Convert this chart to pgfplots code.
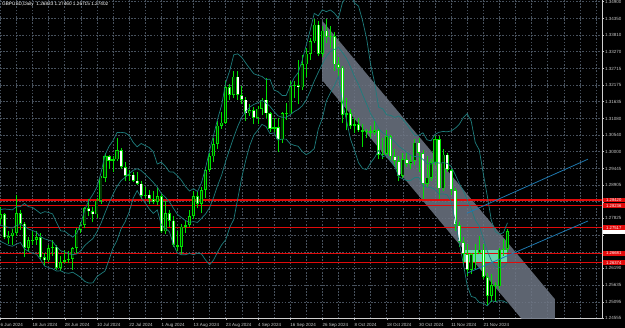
\documentclass[border=0pt]{standalone}
\usepackage{pgfplots}
\pgfplotsset{compat=1.18}
\usepackage{pgfplotstable}
\usepackage{fontspec}
\setmainfont{Liberation Sans}
\definecolor{bull}{RGB}{0,225,0}
\definecolor{bullfill}{RGB}{0,55,0}
\definecolor{gridc}{RGB}{72,82,94}
\definecolor{bandc}{RGB}{30,125,125}
\definecolor{chan}{RGB}{110,118,132}
\definecolor{rectc}{RGB}{110,225,185}
\definecolor{blueline}{RGB}{30,120,175}
\definecolor{lvl}{RGB}{225,10,10}
\definecolor{txt}{RGB}{200,200,200}

\pgfplotsset{
  frame/.style={at={(0pt,9.5pt)}, anchor=south west, scale only axis,
    width=602pt, height=318.5pt,
    xmin=-0.075, xmax=149.49, ymin=1.24551, ymax=1.349555},
  overlay/.style={frame, hide axis},
  bars/.style={draw=none, mark=none, forget plot,
    error bars/.cd, y dir=plus, y explicit, error mark=none,
    error bar style={#1}},
}

% bullish candles (close above open)
\pgfplotstableread{
i O H L C
0 1.2780 1.2818 1.2765 1.2795
2 1.2718 1.2740 1.2700 1.2725
3 1.2725 1.2748 1.2694 1.2735
4 1.2735 1.2860 1.2725 1.2800
7 1.2685 1.2720 1.2675 1.2710
8 1.2710 1.2740 1.2695 1.2713
9 1.2713 1.2740 1.2695 1.2720
12 1.2645 1.2695 1.2640 1.2685
13 1.2685 1.2710 1.2660 1.2690
15 1.2620 1.2660 1.2610 1.2640
16 1.2640 1.2680 1.2635 1.2645
17 1.2645 1.2675 1.2635 1.2650
18 1.2650 1.2690 1.2615 1.2685
19 1.2685 1.2750 1.2670 1.2745
20 1.2745 1.2770 1.2735 1.2760
21 1.2760 1.2820 1.2750 1.2815
24 1.2795 1.2850 1.2785 1.2840
25 1.2840 1.2920 1.2830 1.2915
26 1.2915 1.2995 1.2900 1.2985
28 1.2970 1.2985 1.2935 1.2975
29 1.2975 1.3045 1.2970 1.3005
32 1.2920 1.2940 1.2905 1.2925
36 1.2855 1.2885 1.2850 1.2860
39 1.2835 1.2885 1.2825 1.2855
41 1.2740 1.2840 1.2730 1.2800
45 1.2690 1.2765 1.2665 1.2755
46 1.2755 1.2775 1.2735 1.2760
47 1.2760 1.2810 1.2755 1.2790
48 1.2790 1.2870 1.2780 1.2855
50 1.2830 1.2885 1.2800 1.2875
51 1.2875 1.2950 1.2850 1.2940
52 1.2940 1.2995 1.2935 1.2985
53 1.2985 1.3045 1.2965 1.3025
54 1.3025 1.3100 1.3010 1.3085
55 1.3085 1.3130 1.3075 1.3095
56 1.3095 1.3230 1.3090 1.3210
58 1.3185 1.3265 1.3175 1.3245
62 1.3125 1.3155 1.3115 1.3135
64 1.3110 1.3150 1.3090 1.3140
65 1.3140 1.3175 1.3120 1.3170
68 1.3075 1.3110 1.3065 1.3080
70 1.3040 1.3130 1.3030 1.3125
72 1.3122 1.3230 1.3120 1.3215
73 1.3215 1.3230 1.3175 1.3218
75 1.3210 1.3315 1.3200 1.3285
76 1.3285 1.3340 1.3245 1.3320
77 1.3320 1.3370 1.3300 1.3360
78 1.3360 1.3435 1.3355 1.3415
80 1.3320 1.3410 1.3310 1.3395
82 1.3375 1.3410 1.3340 1.3378
86 1.3120 1.3175 1.3070 1.3125
88 1.3085 1.3110 1.3060 1.3090
91 1.3065 1.3075 1.3045 1.3068
93 1.3062 1.3100 1.3055 1.3070
95 1.2990 1.3045 1.2975 1.2993
96 1.2993 1.3070 1.2985 1.3050
100 1.2920 1.2995 1.2915 1.2975
102 1.2960 1.2990 1.2945 1.2970
103 1.2970 1.3040 1.2955 1.3030
106 1.2895 1.2985 1.2885 1.2915
107 1.2915 1.2975 1.2905 1.2965
108 1.2965 1.3050 1.2955 1.3040
110 1.2880 1.3010 1.2870 1.2990
117 1.2615 1.2670 1.2600 1.2665
118 1.2665 1.2700 1.2615 1.2670
119 1.2670 1.2725 1.2665 1.2680
122 1.2530 1.2600 1.2510 1.2565
124 1.2560 1.2685 1.2550 1.2680
125 1.2680 1.2715 1.2660 1.2683
126 1.26833 1.27460 1.26715 1.27402
}\bullc

% bearish candles (close below open)
\pgfplotstableread{
i O H L C
1 1.2795 1.2800 1.2714 1.2720
5 1.2800 1.2810 1.2745 1.2765
6 1.2765 1.2770 1.2655 1.2685
10 1.2720 1.2735 1.2650 1.2655
11 1.2655 1.2670 1.2625 1.2645
14 1.2690 1.2695 1.2615 1.2620
22 1.2815 1.2845 1.2790 1.2805
23 1.2805 1.2820 1.2770 1.2795
27 1.2985 1.2990 1.2945 1.2970
30 1.3005 1.3012 1.2945 1.2950
31 1.2950 1.2965 1.2905 1.2920
33 1.2925 1.2935 1.2900 1.2905
34 1.2905 1.2935 1.2890 1.2895
35 1.2895 1.2905 1.2845 1.2855
37 1.2860 1.2875 1.2830 1.2845
38 1.2845 1.2870 1.2830 1.2835
40 1.2855 1.2865 1.2735 1.2740
42 1.2800 1.2810 1.2755 1.2775
43 1.2775 1.2790 1.2690 1.2695
44 1.2695 1.2740 1.2675 1.2690
49 1.2855 1.2870 1.2815 1.2830
57 1.3210 1.3220 1.3170 1.3185
59 1.3245 1.3265 1.3170 1.3185
60 1.3185 1.3215 1.3155 1.3170
61 1.3170 1.3180 1.3100 1.3125
63 1.3135 1.3145 1.3090 1.3110
66 1.3170 1.3240 1.3110 1.3125
67 1.3125 1.3130 1.3065 1.3075
69 1.3080 1.3110 1.3000 1.3040
71 1.3125 1.3160 1.3105 1.3122
74 1.3218 1.3300 1.3155 1.3210
79 1.3415 1.3427 1.3312 1.3320
81 1.3395 1.3434 1.3355 1.3375
83 1.3378 1.3390 1.3265 1.3285
84 1.3285 1.3310 1.3245 1.3275
85 1.3275 1.3280 1.3095 1.3120
87 1.3125 1.3140 1.3075 1.3085
89 1.3090 1.3110 1.3065 1.3070
90 1.3070 1.3090 1.3015 1.3065
92 1.3068 1.3085 1.3045 1.3062
94 1.3070 1.3075 1.2975 1.2990
97 1.3050 1.3055 1.2970 1.2985
98 1.2985 1.3010 1.2950 1.2970
99 1.2970 1.2985 1.2905 1.2920
101 1.2975 1.2995 1.2950 1.2960
104 1.3030 1.3045 1.2935 1.2995
105 1.2995 1.3005 1.2845 1.2895
109 1.3040 1.3050 1.2845 1.2880
111 1.2990 1.2995 1.2935 1.2940
112 1.2940 1.2945 1.2860 1.2875
113 1.2875 1.2880 1.2740 1.2760
114 1.2760 1.2770 1.2690 1.2705
115 1.2705 1.2720 1.2630 1.2665
116 1.2665 1.2700 1.2595 1.2615
120 1.2680 1.2700 1.2585 1.2590
121 1.2590 1.2605 1.2500 1.2530
123 1.2565 1.2575 1.2510 1.2560
}\bearc

% Bollinger bands (upper, middle, lower)
\pgfplotstableread{
i U M D
0 1.28107 1.27590 1.27073
1 1.28129 1.27570 1.27011
2 1.28117 1.27530 1.26943
3 1.28099 1.27505 1.26911
4 1.28200 1.27590 1.26980
5 1.28208 1.27620 1.27032
6 1.28309 1.27565 1.26821
7 1.28203 1.27475 1.26747
8 1.28178 1.27428 1.26678
9 1.28084 1.27368 1.26652
10 1.27982 1.27228 1.26474
11 1.28041 1.27153 1.26265
12 1.28015 1.27113 1.26211
13 1.27964 1.27068 1.26172
14 1.27678 1.26888 1.26098
15 1.27415 1.26763 1.26111
16 1.27399 1.26723 1.26047
17 1.27299 1.26663 1.26027
18 1.27207 1.26635 1.26063
19 1.27340 1.26660 1.25980
20 1.27641 1.26765 1.25889
21 1.28109 1.26935 1.25761
22 1.28403 1.27055 1.25707
23 1.28604 1.27160 1.25716
24 1.28842 1.27380 1.25918
25 1.29299 1.27655 1.26011
26 1.29889 1.27995 1.26101
27 1.30171 1.28315 1.26459
28 1.30359 1.28605 1.26851
29 1.30627 1.28865 1.27103
30 1.30631 1.29055 1.27479
31 1.30616 1.29160 1.27704
32 1.30534 1.29280 1.28026
33 1.30306 1.29390 1.28474
34 1.30159 1.29445 1.28731
35 1.30269 1.29385 1.28501
36 1.30198 1.29260 1.28322
37 1.30137 1.29135 1.28133
38 1.30005 1.28995 1.27985
39 1.29595 1.28845 1.28095
40 1.29659 1.28635 1.27611
41 1.29527 1.28515 1.27503
42 1.29341 1.28365 1.27389
43 1.29335 1.28155 1.26975
44 1.29215 1.27950 1.26685
45 1.29067 1.27850 1.26633
46 1.28864 1.27750 1.26636
47 1.28715 1.27695 1.26675
48 1.28793 1.27715 1.26637
49 1.28698 1.27690 1.26682
50 1.28991 1.27825 1.26659
51 1.29469 1.27965 1.26461
52 1.30043 1.28175 1.26307
53 1.30547 1.28505 1.26463
54 1.31072 1.28900 1.26728
55 1.31522 1.29240 1.26958
56 1.32258 1.29690 1.27122
57 1.32645 1.30085 1.27525
58 1.33165 1.30475 1.27785
59 1.33196 1.30830 1.28464
60 1.33081 1.31125 1.29169
61 1.32892 1.31310 1.29728
62 1.32710 1.31460 1.30210
63 1.32545 1.31545 1.30545
64 1.32496 1.31600 1.30704
65 1.32459 1.31675 1.30891
66 1.32356 1.31590 1.30824
67 1.32370 1.31480 1.30590
68 1.32017 1.31315 1.30613
69 1.31962 1.31170 1.30378
70 1.31839 1.31125 1.30411
71 1.31834 1.31122 1.30410
72 1.32142 1.31202 1.30262
73 1.32412 1.31310 1.30208
74 1.32582 1.31380 1.30178
75 1.32983 1.31495 1.30007
76 1.33478 1.31690 1.29902
77 1.33971 1.31975 1.29979
78 1.34518 1.32310 1.30102
79 1.34438 1.32590 1.30742
80 1.34634 1.32860 1.31086
81 1.34573 1.33113 1.31653
82 1.34630 1.33276 1.31922
83 1.34529 1.33343 1.32157
84 1.34362 1.33408 1.32454
85 1.34865 1.33243 1.31621
86 1.35064 1.33048 1.31032
87 1.35133 1.32773 1.30413
88 1.34856 1.32448 1.30040
89 1.34756 1.32198 1.29640
90 1.34284 1.31868 1.29452
91 1.33707 1.31561 1.29415
92 1.32855 1.31245 1.29635
93 1.32252 1.31030 1.29808
94 1.31451 1.30745 1.30039
95 1.31402 1.30618 1.29834
96 1.31205 1.30543 1.29881
97 1.31187 1.30443 1.29699
98 1.31119 1.30323 1.29527
99 1.31169 1.30173 1.29177
100 1.31053 1.30083 1.29113
101 1.30893 1.29975 1.29057
102 1.30703 1.29883 1.29063
103 1.30529 1.29843 1.29157
104 1.30536 1.29848 1.29160
105 1.30618 1.29750 1.28882
106 1.30389 1.29615 1.28841
107 1.30355 1.29595 1.28835
108 1.30567 1.29665 1.28763
109 1.30635 1.29625 1.28615
110 1.30660 1.29640 1.28620
111 1.30650 1.29620 1.28590
112 1.30677 1.29525 1.28373
113 1.30763 1.29255 1.27747
114 1.30887 1.28965 1.27043
115 1.31107 1.28735 1.26363
116 1.31241 1.28435 1.25629
117 1.30997 1.28135 1.25273
118 1.30299 1.27765 1.25231
119 1.30055 1.27565 1.25075
120 1.29283 1.27165 1.25047
121 1.28547 1.26755 1.24963
122 1.27757 1.26445 1.25133
123 1.27391 1.26245 1.25099
124 1.27304 1.26220 1.25136
125 1.27356 1.26238 1.25120
126 1.27675 1.26363 1.25051
}\bands

\begin{document}
\begin{tikzpicture}[x=1pt,y=1pt]
\path[use as bounding box] (0,0) rectangle (625,328);
\fill[black] (0,0) rectangle (625,328);
% base axis: grid, scales, objects behind the candles
\begin{axis}[
  frame,
  axis x line*=bottom, axis y line*=right,
  axis line style={draw=txt!85, line width=0.6pt, -},
  xtick={0,8,...,120},
  minor xtick={4,12,...,148,128,136,144},
  xticklabels={6 Jun 2024,18 Jun 2024,28 Jun 2024,10 Jul 2024,22 Jul 2024,1 Aug 2024,13 Aug 2024,23 Aug 2024,4 Sep 2024,16 Sep 2024,26 Sep 2024,8 Oct 2024,18 Oct 2024,30 Oct 2024,11 Nov 2024,21 Nov 2024},
  ytick={1.34900,1.34350,1.33810,1.33270,1.32715,1.32175,1.31635,1.31080,1.30540,1.30000,1.29445,1.28905,1.28365,1.27825,1.27285,1.26730,1.26190,1.25635,1.25095,1.24555},
  yticklabels={1.34900,1.34350,1.33810,1.33270,1.32715,1.32175,1.31635,1.31080,1.30540,1.30000,1.29445,1.28905,,1.27825,,,1.26190,1.25635,1.25095,1.24555},
  yticklabel pos=right,
  grid=both,
  major grid style={draw=gridc, dash pattern=on 1.6pt off 1.6pt, line width=0.5pt},
  minor grid style={draw=gridc, dash pattern=on 1.6pt off 1.6pt, line width=0.5pt},
  tick align=outside, major tick length=2pt, minor tick length=0pt,
  tick style={draw=txt, line width=0.4pt},
  xticklabel style={anchor=north west, inner sep=0pt, yshift=-2.6pt, text=txt, font=\fontsize{4.5}{5}\selectfont},
  yticklabel style={anchor=west, inner sep=0pt, xshift=1pt, text=txt, font=\fontsize{4.5}{5}\selectfont},
  /pgf/number format/assume math mode=true,
]
% regression channel
\addplot[fill=chan, fill opacity=0.85, draw=none, forget plot] coordinates {(79.93,1.34286) (137.8,1.25181) (137.8,1.23237) (79.93,1.32342)};
% zone rectangle
\addplot[fill=rectc, fill opacity=0.9, draw=none, forget plot] coordinates {(114.96,1.2678) (125.9,1.2678) (125.9,1.2640) (114.96,1.2640)};
% horizontal levels
\addplot[lvl, line width=1.2pt, forget plot] coordinates {(-1,1.28420) (151,1.28420)};
\addplot[lvl, line width=1.2pt, forget plot] coordinates {(-1,1.28236) (151,1.28236)};
\addplot[lvl, line width=1.2pt, forget plot] coordinates {(-1,1.27517) (151,1.27517)};
\addplot[lvl, line width=1.2pt, forget plot] coordinates {(-1,1.26681) (151,1.26681)};
\addplot[lvl, line width=1.2pt, forget plot] coordinates {(-1,1.26374) (151,1.26374)};
\coordinate (r1) at (axis cs:149.49,1.28420);
\coordinate (r2) at (axis cs:149.49,1.28236);
\coordinate (r3) at (axis cs:149.49,1.27517);
\coordinate (r4) at (axis cs:149.49,1.26681);
\coordinate (r5) at (axis cs:149.49,1.26374);
\coordinate (cp) at (axis cs:149.49,1.27402);
\end{axis}
% wicks
\begin{axis}[overlay]
\addplot[bars={draw=bull, line width=0.8pt}] table[x=i, y=L, y error plus expr=\thisrow{H}-\thisrow{L}] {\bullc};
\addplot[bars={draw=bull, line width=0.8pt}] table[x=i, y=L, y error plus expr=\thisrow{H}-\thisrow{L}] {\bearc};
\end{axis}
% body outlines
\begin{axis}[overlay]
\addplot[bars={draw=bull, line width=3.1pt}] table[x=i, y=O, y error plus expr=\thisrow{C}-\thisrow{O}] {\bullc};
\addplot[bars={draw=bull, line width=3.1pt}] table[x=i, y=C, y error plus expr=\thisrow{O}-\thisrow{C}] {\bearc};
\end{axis}
% body fills (only where the body is tall enough)
\begin{axis}[overlay]
\addplot[bars={draw=bullfill, line width=1.5pt}]
  table[x=i, y expr={(\thisrow{C}-\thisrow{O}>0.0006) ? \thisrow{O}+0.00023 : 0},
        y error plus expr={(\thisrow{C}-\thisrow{O}>0.0006) ? \thisrow{C}-\thisrow{O}-0.00046 : 0}] {\bullc};
\addplot[bars={draw=white, line width=1.5pt}]
  table[x=i, y expr={(\thisrow{O}-\thisrow{C}>0.0006) ? \thisrow{C}+0.00023 : 0},
        y error plus expr={(\thisrow{O}-\thisrow{C}>0.0006) ? \thisrow{O}-\thisrow{C}-0.00046 : 0}] {\bearc};
\end{axis}
% indicators on top
\begin{axis}[overlay]
\addplot[bandc, line width=0.7pt, forget plot] table[x=i, y=U] {\bands};
\addplot[bandc, line width=0.7pt, forget plot] table[x=i, y=M] {\bands};
\addplot[bandc, line width=0.7pt, forget plot] table[x=i, y=D] {\bands};
\addplot[blueline, line width=0.8pt, forget plot] coordinates {(115.9,1.27987) (146.0,1.29755)};
\addplot[blueline, line width=0.8pt, forget plot] coordinates {(115.9,1.26027) (146.0,1.27736)};
\end{axis}
\node[anchor=north west, inner sep=0pt, text=white, font=\fontsize{4.7}{5}\selectfont] at (2,326.5) {GBPUSD,Daily\ \ 1.26833 1.27460 1.26715 1.27402};
\tikzset{lab/.style={anchor=west, fill=#1, inner sep=0pt, minimum width=22pt, minimum height=4.8pt, text height=3.2pt, text depth=0pt, font=\fontsize{4.2}{4.4}\selectfont}}
\node[lab=white] at ([xshift=0.6pt]cp) {};
\node[lab=lvl, text=white] at ([xshift=0.6pt]r1) {1.28420};
\node[lab=lvl, text=white] at ([xshift=0.6pt]r2) {1.28236};
\node[lab=lvl, text=white] at ([xshift=0.6pt]r3) {1.27517};
\node[lab=lvl, text=white] at ([xshift=0.6pt]r4) {1.26681};
\node[lab=lvl, text=white] at ([xshift=0.6pt]r5) {1.26374};
\end{tikzpicture}
\end{document}
